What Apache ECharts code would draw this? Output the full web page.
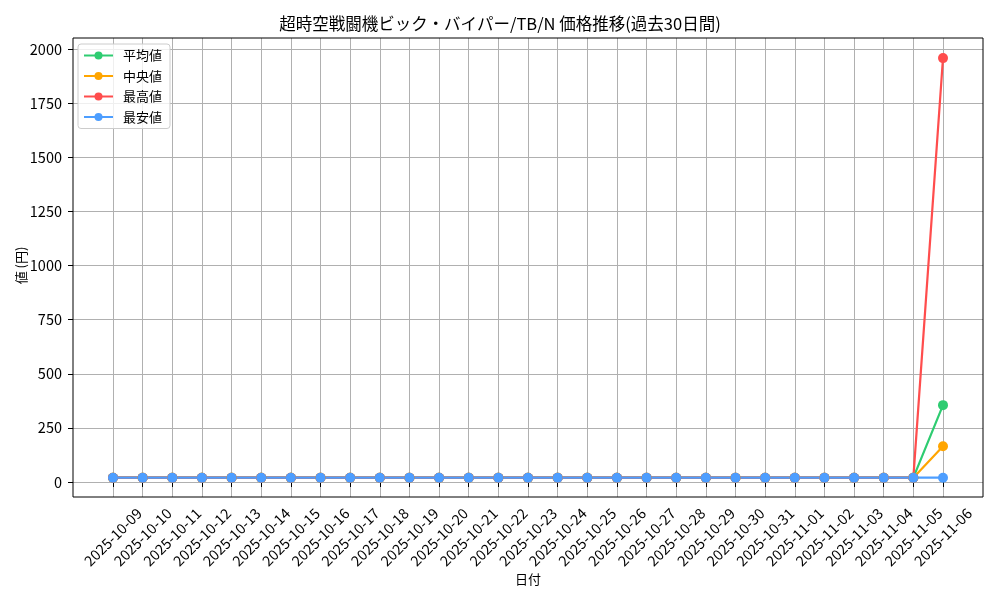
<!DOCTYPE html>
<html><head><meta charset="utf-8">
<script src="https://cdn.jsdelivr.net/npm/echarts@6/dist/echarts.min.js"></script>
<style>html,body{margin:0;padding:0;background:#fff}#c{width:1000px;height:600px}</style>
</head><body><div id="c"></div>
<script>
const dates = ['2025-10-09','2025-10-10','2025-10-11','2025-10-12','2025-10-13','2025-10-14','2025-10-15','2025-10-16','2025-10-17','2025-10-18','2025-10-19','2025-10-20','2025-10-21','2025-10-22','2025-10-23','2025-10-24','2025-10-25','2025-10-26','2025-10-27','2025-10-28','2025-10-29','2025-10-30','2025-10-31','2025-11-01','2025-11-02','2025-11-03','2025-11-04','2025-11-05','2025-11-06'];
const avgVals = [20,20,20,20,20,20,20,20,20,20,20,20,20,20,20,20,20,20,20,20,20,20,20,20,20,20,20,20,355];
const medVals = [20,20,20,20,20,20,20,20,20,20,20,20,20,20,20,20,20,20,20,20,20,20,20,20,20,20,20,20,165];
const maxVals = [20,20,20,20,20,20,20,20,20,20,20,20,20,20,20,20,20,20,20,20,20,20,20,20,20,20,20,20,1958];
const minVals = [20,20,20,20,20,20,20,20,20,20,20,20,20,20,20,20,20,20,20,20,20,20,20,20,20,20,20,20,20];
const yTicks = [0,250,500,750,1000,1250,1500,1750,2000];
const seriesNames = ['平均値','中央値','最高値','最安値'];
const colors = ['#2ecc71','#ffa500','#ff4d4d','#4d9eff'];

const FONT = '"Noto Sans CJK JP", sans-serif';
const NUMFONT = '"Noto Sans CJK JP", sans-serif';
const chart = echarts.init(document.getElementById('c'), null, {renderer:'canvas'});
const mk = (name, data, color) => ({
  name, type:'line', data, xAxisIndex:2, yAxisIndex:2,
  symbol:'circle', symbolSize:10, showSymbol:true,
  lineStyle:{width:2.2, color}, itemStyle:{color}, animation:false
});
chart.setOption({
  animation:false,
  textStyle:{fontFamily:FONT},
  title:{text:'超時空戦闘機ビック・バイパー/TB/N 価格推移(過去30日間)', left:'center', top:10,
    textStyle:{fontFamily:FONT, fontSize:16.5, fontWeight:'normal', color:'#000'}},
  legend:{data:seriesNames, orient:'vertical', left:78, top:44, itemWidth:29, itemHeight:10, itemGap:7.5,
    backgroundColor:'rgba(255,255,255,0.8)', borderColor:'#ccc', borderWidth:1, borderRadius:3,
    padding:[5,8,5,5], textStyle:{fontFamily:FONT, fontSize:13, color:'#000', padding:[0,0,0,5]}},
  grid:[
    {left:73, right:17, top:38, bottom:103, show:true, borderColor:'#000', borderWidth:1, backgroundColor:'transparent', z:5},
    {left:73, right:17, top:49, bottom:118},
    {left:113, right:57, top:38, bottom:103}
  ],
  xAxis:[
    {gridIndex:0, type:'value', min:0, max:1, show:false},
    {gridIndex:1, type:'value', min:0, max:1, show:false},
    {gridIndex:2, type:'category', data:dates, boundaryGap:false,
      axisLine:{show:false}, axisTick:{show:true, length:5, lineStyle:{color:'#000'}, alignWithLabel:true},
      axisLabel:{rotate:45, interval:0, fontFamily:NUMFONT, fontSize:14.5, color:'#000', margin:40,
        align:'center', verticalAlign:'middle'},
      splitLine:{show:true, lineStyle:{color:'#b0b0b0', width:1}},
      name:'日付', nameLocation:'middle', nameGap:76, nameMoveOverlap:false,
      nameTextStyle:{fontFamily:FONT, fontSize:13, color:'#000'}}
  ],
  yAxis:[
    {gridIndex:0, type:'value', min:0, max:1, show:false},
    {gridIndex:1, type:'value', min:0, max:2000, interval:250,
      axisLine:{show:false}, axisTick:{show:true, length:5, lineStyle:{color:'#000'}},
      axisLabel:{fontFamily:NUMFONT, fontSize:14.5, color:'#000', margin:11, formatter:(v)=>String(v)},
      splitLine:{show:true, lineStyle:{color:'#b0b0b0', width:1}},
      name:'値 (円)', nameLocation:'middle', nameGap:45, nameRotate:90, nameMoveOverlap:false,
      nameTextStyle:{fontFamily:FONT, fontSize:13, color:'#000'}},
    {gridIndex:2, type:'value', min:-69.3, max:2050.8, show:false}
  ],
  series:[
    mk(seriesNames[0], avgVals, colors[0]),
    mk(seriesNames[1], medVals, colors[1]),
    mk(seriesNames[2], maxVals, colors[2]),
    mk(seriesNames[3], minVals, colors[3])
  ]
});
</script></body></html>
